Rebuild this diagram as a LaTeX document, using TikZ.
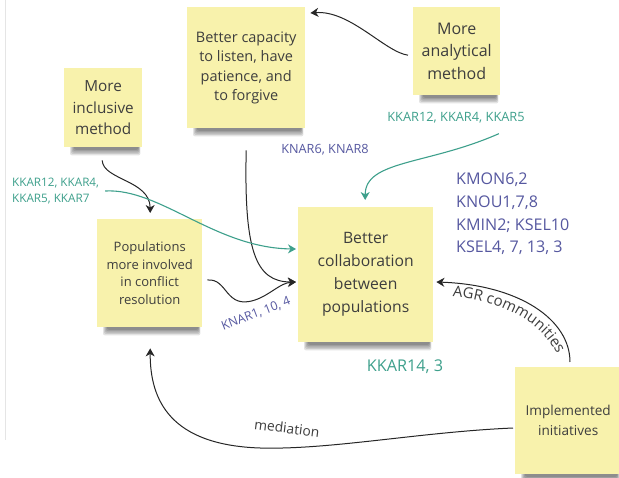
\documentclass[tikz,border=0pt]{standalone}
\usepackage{fontspec}
\setmainfont{Open Sans}
\usetikzlibrary{arrows.meta,calc,backgrounds,decorations.text}
\definecolor{notey}{RGB}{248,242,172}
\definecolor{noteink}{RGB}{62,62,62}
\definecolor{tealink}{RGB}{62,160,140}
\definecolor{blueink}{RGB}{86,88,160}
\definecolor{arrowink}{RGB}{38,38,38}
\newcommand\mynoteshadow[1]{%
  \foreach \k in {0,1,2,3,4}{%
    \fill[black,opacity=0.11,rounded corners=2pt]
      ($(#1.south west)+(6+\k,-2)$) rectangle ($(#1.south east)+(-2-0.5*\k,8-1.4*\k)$);
  }%
}
\begin{document}
\begin{tikzpicture}[x=1pt,y=-1pt,
  note/.style={fill=notey,anchor=north west,inner sep=0pt,align=center,text=noteink},
  lbl/.style={inner sep=0pt,align=left},
  conn/.style={draw=arrowink,line width=1pt,-{Stealth[length=8pt,width=9pt,inset=2.5pt]}},
  tconn/.style={draw=tealink,line width=1.1pt,-{Stealth[length=8pt,width=9pt,inset=2.5pt]}}]
\useasboundingbox (0,0) rectangle (619,478);

% sticky notes
\node[note,minimum width=78pt,minimum height=79pt,font=\fontsize{15.3}{21.5}\selectfont] (inclusive) at (64,68) {More\\inclusive\\method};
\node[note,minimum width=118pt,minimum height=121pt,font=\fontsize{14.5}{19.5}\selectfont] (capacity) at (187,7) {Better capacity\\to listen, have\\patience, and\\to forgive};
\node[note,minimum width=87pt,minimum height=88pt,font=\fontsize{16}{22.5}\selectfont] (analytical) at (413,7) {More\\analytical\\method};
\node[note,minimum width=105pt,minimum height=108pt,font=\fontsize{13}{17.5}\selectfont] (populations) at (97,219) {Populations\\more involved\\in conflict\\resolution};
\node[note,minimum width=135pt,minimum height=135pt,font=\fontsize{15.7}{23}\selectfont] (collab) at (298,207) {Better\\collaboration\\between\\populations};
\node[note,minimum width=106pt,minimum height=107pt,font=\fontsize{13.6}{20}\selectfont] (implemented) at (515,367) {Implemented\\initiatives};

\begin{scope}[on background layer]
  \fill[white] (0,0) rectangle (619,478);
  \draw[black!10,line width=0.8pt] (5,0) -- (5,440);
  \mynoteshadow{inclusive}
  \mynoteshadow{capacity}
  \mynoteshadow{analytical}
  \mynoteshadow{populations}
  \mynoteshadow{collab}
  \mynoteshadow{implemented}
\end{scope}

% labels
\node[lbl,anchor=west,text=tealink,font=\fontsize{11.7}{16}\selectfont] (lblA) at (12,191) {KKAR12, KKAR4,\\KKAR5, KKAR7};
\node[lbl,text=blueink,font=\fontsize{12.7}{14}\selectfont] (lblB) at (325,150) {KNAR6, KNAR8};
\node[lbl,text=tealink,font=\fontsize{12.8}{14}\selectfont] (lblC) at (456,118) {KKAR12, KKAR4, KKAR5};
\node[lbl,anchor=west,text=blueink,font=\fontsize{16.1}{22.7}\selectfont] (lblD) at (456,214) {KMON6,2\\KNOU1,7,8\\KMIN2; KSEL10\\KSEL4, 7, 13, 3};
\node[lbl,text=tealink,font=\fontsize{16.2}{18}\selectfont] (lblE) at (405,367) {KKAR14, 3};
\node[lbl,text=blueink,rotate=21,font=\fontsize{12.3}{14}\selectfont] (lblF) at (256,314) {KNAR1, 10, 4};
\node[lbl,text=noteink,rotate=-7,font=\fontsize{13.8}{15}\selectfont] (lblG) at (287,428) {mediation};

% connectors
\draw[conn] ([xshift=-5pt,yshift=-4pt]analytical.west) .. controls (385,52) and (350,10) .. ([xshift=5pt,yshift=-6pt]capacity.north east);
\draw[conn] ([yshift=-22pt]capacity.south) .. controls (244,250) and (255,282) .. ([xshift=-2pt,yshift=-75pt]collab.north west);
\draw[conn] ([xshift=5pt,yshift=-61pt]populations.north east) .. controls (228,278) and (225,310) .. (255,300) .. controls (270,295) and (280,283) .. ([xshift=-2pt,yshift=-75pt]collab.north west);
\draw[conn] ([xshift=-1pt,yshift=-13pt]inclusive.south) .. controls (103,180) and (150,180) .. ([xshift=0.5pt,yshift=6pt]populations.north);
\draw[tconn] ([xshift=6pt]lblA.east) .. controls (160,188) and (215,248) .. ([xshift=-2pt,yshift=-42pt]collab.north west);
\draw[tconn] ([xshift=-26pt,yshift=-10pt]lblC.south east) .. controls (428,165) and (365,160) .. ([xshift=-0.5pt,yshift=7pt]collab.north);
\draw[conn] ([xshift=55pt,yshift=5pt]implemented.north west) .. controls (570,320) and (520,285) .. ([xshift=3pt,yshift=-75pt]collab.north east);
\draw[conn] ([xshift=-2pt,yshift=-61pt]implemented.north west) .. controls (420,432) and (330,450) .. (260,448) .. controls (170,445) and (150,400) .. ([xshift=0.5pt,yshift=-21pt]populations.south);

% curved label
\path[decorate,decoration={text along path,text align=center,
  text={|\fontsize{15}{15}\selectfont\color{noteink}|AGR communities}}]
  (438,296) .. controls (508,297) and (553,330) .. (562,368);
\end{tikzpicture}
\end{document}
